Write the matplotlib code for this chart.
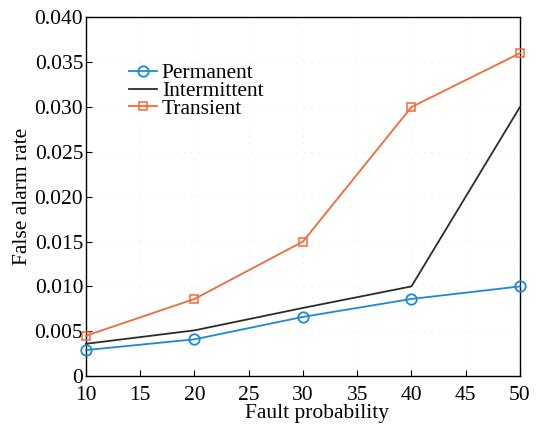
import numpy as np
import matplotlib.pyplot as plt

plt.rcParams['font.family'] = ['Liberation Serif', 'DejaVu Serif']
plt.rcParams['mathtext.fontset'] = 'stix'

fault_prob = [10, 20, 30, 40, 50]
permanent = [0.0029, 0.0041, 0.0066, 0.0086, 0.0100]
intermittent = [0.0036, 0.0051, 0.0076, 0.0100, 0.0300]
transient = [0.0045, 0.0086, 0.0150, 0.0300, 0.0360]

x_ticks = [10, 15, 20, 25, 30, 35, 40, 45, 50]
y_ticks = [0, 0.005, 0.010, 0.015, 0.020, 0.025, 0.030, 0.035, 0.040]
y_labels = ['0', '0.005', '0.010', '0.015', '0.020', '0.025', '0.030', '0.035', '0.040']

fig = plt.figure(figsize=(5.41, 4.24), dpi=100)
ax = fig.add_axes([0.159, 0.113, 0.802, 0.846])

ax.plot(fault_prob, permanent, color='#1a8ad6', lw=1.3, marker='o', ms=7.5,
        mfc='none', mew=1.3, label='Permanent', clip_on=False, zorder=3)
ax.plot(fault_prob, intermittent, color='#2b2b2b', lw=1.3,
        label='Intermittent', clip_on=False, zorder=3)
ax.plot(fault_prob, transient, color='#f26a3a', lw=1.3, marker='s', ms=6,
        mfc='none', mew=1.1, label='Transient', clip_on=False, zorder=3)

ax.set_xlim(10, 50)
ax.set_ylim(0, 0.040)
ax.set_xticks(x_ticks)
ax.set_yticks(y_ticks)
ax.set_yticklabels(y_labels)
ax.tick_params(direction='in', length=4, width=0.8, labelsize=15.5)
ax.tick_params(axis='x', pad=7)
ax.tick_params(axis='y', pad=2)
ax.grid(True, color='#dddddd', lw=0.6, ls=(0, (1, 8)))
for s in ax.spines.values():
    s.set_linewidth(1.0)

ax.set_xlabel('Fault probability', fontsize=15.5)
ax.xaxis.set_label_coords(0.532, -0.078)
ax.set_ylabel('False alarm rate', fontsize=15.5, labelpad=2)

ax.legend(loc='upper left', bbox_to_anchor=(0.099, 0.872), frameon=False,
          fontsize=15.5, handlelength=1.3, handletextpad=0.23,
          labelspacing=-0.11, borderaxespad=0, borderpad=0)

fig.savefig('out.png', dpi=100)
